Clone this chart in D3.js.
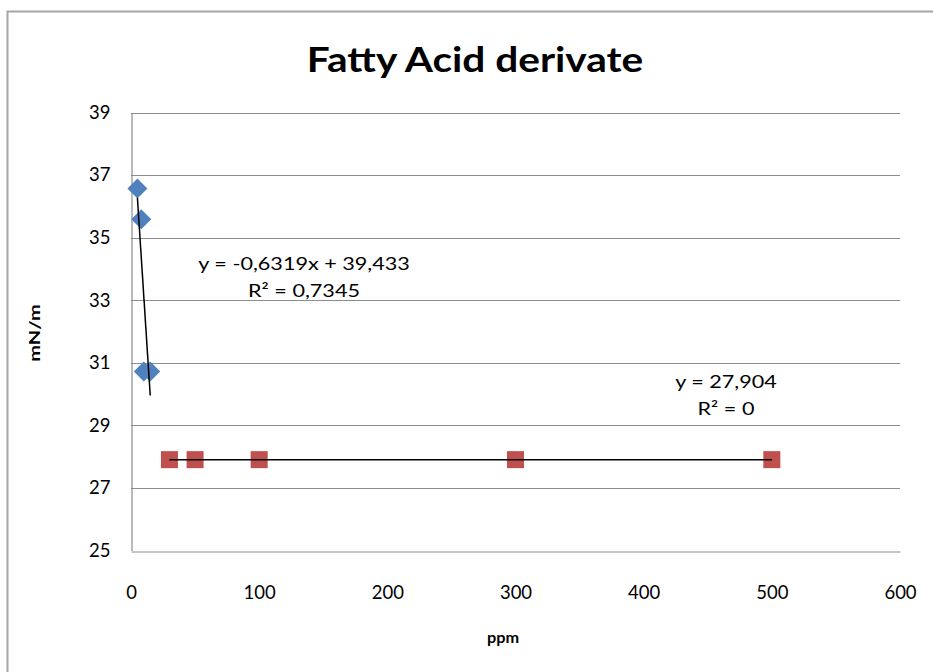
<!DOCTYPE html>
<html>
<head>
<meta charset="utf-8">
<script src="https://cdn.jsdelivr.net/npm/d3@7"></script>
<style>
  body { margin: 0; background: #fff; }
  svg { display: block; font-family: Lato, "Open Sans", sans-serif; }
</style>
</head>
<body>
<svg id="chart" width="933" height="672"></svg>
<script>
// Surface tension (mN/m) against concentration (ppm)
const seriesAX = [5, 8, 10, 15];
const seriesAY = [36.57, 35.59, 30.72, 30.72];
const seriesBX = [30, 50, 100, 300, 500];
const seriesBY = [27.904, 27.904, 27.904, 27.904, 27.904];

// Linear trendlines: slope, intercept and fit range
const trendA = { slope: -0.6319, intercept: 39.433, from: 5, to: 15 };
const trendB = { slope: 0, intercept: 27.904, from: 30, to: 500 };
const trendLabelsA = ["y = -0,6319x + 39,433", "R² = 0,7345"];
const trendLabelsB = ["y = 27,904", "R² = 0"];

const xTicks = [0, 100, 200, 300, 400, 500, 600];
const yTicks = [25, 27, 29, 31, 33, 35, 37, 39];

const svg = d3.select("#chart");
const plotLeft = 131, plotRight = 900, plotTop = 112.5, plotBottom = 550.5;

const x = d3.scaleLinear().domain([0, 600]).range([plotLeft, plotRight]);
const y = d3.scaleLinear().domain([25, 39]).range([plotBottom, plotTop]);

// Chart area border
svg.append("path")
  .attr("d", `M7.5,672 L7.5,11.5 L933,11.5`)
  .attr("fill", "none").attr("stroke", "#a6a6a6").attr("stroke-width", 2);

// Horizontal gridlines
svg.append("g").selectAll("line").data(yTicks.filter(d => d > 25)).join("line")
  .attr("x1", plotLeft).attr("x2", plotRight)
  .attr("y1", d => Math.round(y(d)) + 0.5).attr("y2", d => Math.round(y(d)) + 0.5)
  .attr("stroke", "#8c8c8c").attr("stroke-width", 1);

// Axes (no tick marks, labels only)
const yAxis = svg.append("g").attr("transform", `translate(${plotLeft + 0.5},0)`)
  .call(d3.axisLeft(y).tickValues(yTicks).tickSize(0).tickPadding(21).tickFormat(d3.format("d")));
const xAxis = svg.append("g").attr("transform", `translate(0,${Math.round(plotBottom) + 0.5})`)
  .call(d3.axisBottom(x).tickValues(xTicks).tickSize(0).tickPadding(34).tickFormat(d3.format("d")));
[yAxis, xAxis].forEach(g => {
  g.select(".domain").attr("stroke", "#8c8c8c").attr("stroke-width", 1.2);
  g.selectAll("text").attr("font-size", 18.5).attr("fill", "#000")
    .attr("font-family", "Lato, 'Open Sans', sans-serif");
});

// Series markers
const blue = "#4f81bd", red = "#c0504d";
const diamond = d3.symbol().type(d3.symbolSquare).size(200);
svg.append("g").selectAll("path").data(d3.zip(seriesAX, seriesAY)).join("path")
  .attr("d", diamond)
  .attr("transform", d => `translate(${x(d[0])},${y(d[1])}) rotate(45)`)
  .attr("fill", blue);
svg.append("g").selectAll("rect").data(d3.zip(seriesBX, seriesBY)).join("rect")
  .attr("x", d => x(d[0]) - 8.5).attr("y", d => y(d[1]) - 8.5)
  .attr("width", 17).attr("height", 17)
  .attr("fill", red);

// Trendlines
[trendA, trendB].forEach(t => {
  svg.append("line")
    .attr("x1", x(t.from)).attr("y1", y(t.slope * t.from + t.intercept))
    .attr("x2", x(t.to)).attr("y2", y(t.slope * t.to + t.intercept))
    .attr("stroke", "#000").attr("stroke-width", 1.5);
});

// Text helper: horizontally widened text centred at (cx, cy)
function wideText(str, cx, cy, size, sx, opts = {}) {
  const t = svg.append("text")
    .attr("transform", `translate(${cx},${cy}) rotate(${opts.rotate || 0}) scale(${sx},1)`)
    .attr("text-anchor", "middle").attr("font-size", size).attr("fill", "#000")
    .text(str);
  if (opts.bold) t.attr("font-weight", "bold");
  return t;
}

// Trendline equation labels
trendLabelsA.forEach((s, i) => wideText(s, 304, 270 + i * 27, 18, 1.2));
trendLabelsB.forEach((s, i) => wideText(s, 726, 388 + i * 27, 18, 1.2));

// Title and axis titles
wideText("Fatty Acid derivate", 475, 72, 35, 1.16, { bold: true });
wideText("ppm", 503, 643, 15.5, 1.05, { bold: true });
wideText("mN/m", 40, 333, 16, 1.25, { bold: true, rotate: -90 });
</script>
</body>
</html>
